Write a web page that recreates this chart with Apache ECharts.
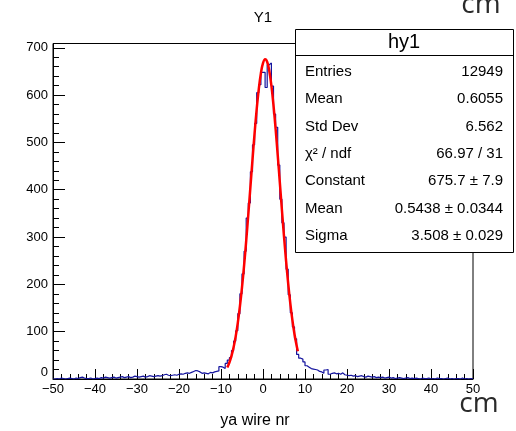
<!DOCTYPE html>
<html>
<head>
<meta charset="utf-8">
<script src="https://cdn.jsdelivr.net/npm/echarts@6/dist/echarts.min.js"></script>
<style>
html,body{margin:0;padding:0;background:#fff;}
#c{width:516px;height:431px;}
</style>
</head>
<body>
<div id="c"></div>
<script>
// ---- data ----
const xMin = -50, xMax = 50, binWidth = 0.5;
const yMax = 709;
const counts = [
  0,1,0,2,1,0,1,2,1,0,
  2,1,3,4,2,1,1,2,0,1,
  2,1,3,2,4,3,2,3,4,2,
  3,4,5,3,4,5,3,4,6,5,
  4,5,6,4,5,7,6,5,6,7,
  6,7,9,10,8,7,8,9,8,10,
  11,10,12,13,12,14,16,18,17,15,
  12,13,12,11,14,13,15,16,17,26,
  25,22,33,40,45,60,80,102,138,180,
  222,270,340,372,438,495,540,605,622,648,
  648,616,664,668,619,560,532,452,380,330,
  300,232,178,140,110,85,52,44,42,36,
  28,25,22,21,20,19,16,15,12,19,
  20,10,12,13,11,12,10,13,9,8,
  7,8,6,7,5,6,7,5,4,6,
  5,4,5,3,4,3,4,2,3,4,
  2,3,1,2,3,2,1,2,3,1,
  2,1,2,1,0,2,1,1,2,0,
  1,0,2,1,1,0,1,2,0,1,
  0,1,1,0,2,0,1,0,1,0
];
const fitX = [-8.5,-8,-7.5,-7,-6.5,-6,-5.5,-5,-4.5,-4,-3.5,-3,-2.5,-2,-1.5,-1,-0.5,0,0.5,1,1.5,2,2.5,3,3.5,4,4.5,5,5.5,6,6.5,7,7.5,8,8.3];
const fitY = [24.3,34.8,48.7,66.9,90.0,118.6,153.2,193.8,240.3,292.0,347.6,405.6,463.7,519.5,570.2,613.3,646.4,667.6,675.6,670.0,651.0,620.0,578.4,528.8,473.7,415.9,357.7,301.5,249.1,201.6,159.9,124.3,94.6,70.6,58.6];
const titleText = 'Y1';
const xTitle = 'ya wire nr';
const unitText = 'cm';
const statName = 'hy1';
const statLabels = ['Entries','Mean','Std Dev','\u03c7\u00b2 / ndf','Constant','Mean','Sigma'];
const statValues = ['12949','0.6055','6.562','66.97 / 31','675.7 \u00b1 7.9','0.5438 \u00b1 0.0344','3.508 \u00b1 0.029'];

// ---- build ----
const stepData = [];
counts.forEach((c, i) => {
  const lo = xMin + i * binWidth;
  stepData.push([lo, c], [lo + binWidth, c]);
});
const fitData = fitX.map((x, i) => [x, fitY[i]]);

const FONT = 'Liberation Sans';
const fmtNum = v => (v < 0 ? '\u2212' + Math.abs(v) : String(v));

const graphics = [
  {type:'text', x:263, y:18, style:{text:titleText, font:'15px ' + FONT, fill:'#000', align:'center', verticalAlign:'middle'}},
  {type:'text', x:255, y:421, style:{text:xTitle, font:'16px ' + FONT, fill:'#000', align:'center', verticalAlign:'middle'}},
  {type:'text', x:481, y:5, style:{text:unitText, font:'28px "Open Sans"', fill:'#2a2a2a', align:'center', verticalAlign:'middle'}},
  {type:'text', x:479, y:404, style:{text:unitText, font:'28px "Open Sans"', fill:'#2a2a2a', align:'center', verticalAlign:'middle'}},
  {type:'rect', shape:{x:295.5, y:29.5, width:218, height:223}, style:{fill:'#fff', stroke:'#000', lineWidth:1}, z:10},
  {type:'line', shape:{x1:295.5, y1:55.5, x2:513.5, y2:55.5}, style:{stroke:'#000', lineWidth:1}, z:11},
  {type:'text', x:404, y:42, style:{text:statName, font:'20px ' + FONT, fill:'#000', align:'center', verticalAlign:'middle'}, z:11}
];
statLabels.forEach((t, i) => {
  const y = 71.7 + i * 27.4;
  graphics.push({type:'text', x:305, y:y, style:{text:t, font:'15px ' + FONT, fill:'#000', align:'left', verticalAlign:'middle'}, z:11});
  graphics.push({type:'text', x:503, y:y, style:{text:statValues[i], font:'15px ' + FONT, fill:'#000', align:'right', verticalAlign:'middle'}, z:11});
});

const chart = echarts.init(document.getElementById('c'), null, {renderer:'canvas'});
chart.setOption({
  backgroundColor:'#fff',
  animation:false,
  grid:{left:53, right:43, top:43.5, bottom:52, show:true, borderColor:'#000', borderWidth:1, backgroundColor:'transparent'},
  xAxis:{
    type:'value', min:xMin, max:xMax, interval:10,
    axisLine:{show:true, onZero:false, lineStyle:{color:'#000', width:1}},
    axisTick:{show:true, inside:true, length:10, lineStyle:{color:'#000'}},
    minorTick:{show:true, splitNumber:5, length:5, lineStyle:{color:'#000'}},
    splitLine:{show:false},
    axisLabel:{color:'#000', fontFamily:FONT, fontSize:13, margin:4, formatter:fmtNum}
  },
  yAxis:{
    type:'value', min:0, max:yMax, interval:100,
    axisLine:{show:true, onZero:false, lineStyle:{color:'#000', width:1}},
    axisTick:{show:true, inside:true, length:12, lineStyle:{color:'#000'}},
    minorTick:{show:true, splitNumber:5, length:6, lineStyle:{color:'#000'}},
    splitLine:{show:false},
    axisLabel:{color:'#000', fontFamily:FONT, fontSize:13, margin:5, showMaxLabel:false,
      formatter: v => (v === 0 ? '{z|0}' : (v % 100 === 0 ? String(v) : '')),
      rich:{z:{fontFamily:FONT, fontSize:13, color:'#000', padding:[0,0,14,0]}}}
  },
  series:[
    {type:'line', data:stepData, symbol:'none', lineStyle:{color:'#14149e', width:1.2}, z:3, clip:true},
    {type:'line', data:fitData, symbol:'none', smooth:0.4, lineStyle:{color:'#ff0000', width:2.5}, z:4, clip:true}
  ],
  graphic:graphics
});
</script>
</body>
</html>
